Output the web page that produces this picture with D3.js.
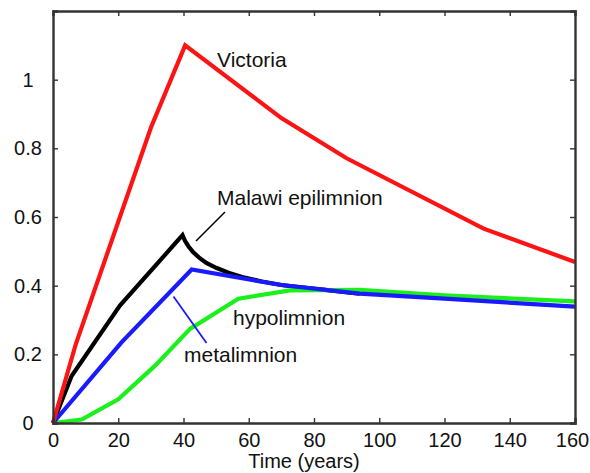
<!DOCTYPE html>
<html><head><meta charset="utf-8">
<script src="https://cdn.jsdelivr.net/npm/d3@7"></script>
<style>body{margin:0;background:#fff}svg{display:block}text{font-family:"Liberation Sans",Arial,Helvetica,sans-serif;fill:#111}</style>
</head><body>
<script>
// ---- data ----
const xTicks = [0, 20, 40, 60, 80, 100, 120, 140, 160];
const yTicks = [0, 0.2, 0.4, 0.6, 0.8, 1];
const yTickLabels = ["0", "0.2", "0.4", "0.6", "0.8", "1"];

const victoriaX = [0, 7, 30, 40.5, 70, 90, 132, 160];
const victoriaY = [0, 0.23, 0.86, 1.10, 0.888, 0.771, 0.566, 0.469];

const epiX = [0, 5.7, 20.5, 39.7, 40.5, 41.5, 43, 45, 47, 50, 54, 58, 64, 70, 76, 82, 94];
const epiY = [0, 0.137, 0.342, 0.547, 0.530, 0.515, 0.497, 0.480, 0.466, 0.452, 0.437, 0.425, 0.412, 0.402, 0.395, 0.389, 0.377];

const metaX = [0, 21, 42.5, 70, 94, 120, 160];
const metaY = [0, 0.235, 0.447, 0.402, 0.377, 0.362, 0.339];

const hypoX = [0, 8.8, 20, 31.3, 42, 56.8, 72.6, 94, 120, 160];
const hypoY = [0, 0.01, 0.069, 0.167, 0.274, 0.362, 0.386, 0.388, 0.372, 0.354];

const seriesNames = ["Malawi epilimnion", "hypolimnion", "metalimnion", "Victoria"];

// ---- layout ----
const W = 590, H = 473;
const L = 53, R = 575, T = 11, B = 423;
const svg = d3.select("body").append("svg").attr("width", W).attr("height", H);
const x = d3.scaleLinear().domain([0, 160]).range([L, R]);
const y = d3.scaleLinear().domain([0, 1.2]).range([B, T]);

const line = d3.line().x(d => x(d[0])).y(d => y(d[1]));
const zip = (a, b) => a.map((v, i) => [v, b[i]]);

const series = [
  {name: seriesNames[0], pts: zip(epiX, epiY), color: "#000000"},
  {name: seriesNames[1], pts: zip(hypoX, hypoY), color: "#1cf01c"},
  {name: seriesNames[2], pts: zip(metaX, metaY), color: "#1a1aff"},
  {name: seriesNames[3], pts: zip(victoriaX, victoriaY), color: "#fc1414"}
];

svg.append("g").selectAll("path").data(series).join("path")
  .attr("d", d => line(d.pts)).attr("fill", "none")
  .attr("stroke", d => d.color).attr("stroke-width", 4.2)
  .attr("stroke-linejoin", "miter").attr("stroke-miterlimit", 4);

// axes (ticks inward, mirrored)
const axStroke = "#333";
const gB = svg.append("g").attr("transform", `translate(0,${B})`)
  .call(d3.axisBottom(x).tickValues(xTicks).tickSize(-5).tickPadding(10).tickFormat(d3.format("d")));
const gT = svg.append("g").attr("transform", `translate(0,${T})`)
  .call(d3.axisTop(x).tickValues(xTicks).tickSize(-5).tickFormat(""));
const gL = svg.append("g").attr("transform", `translate(${L},0)`)
  .call(d3.axisLeft(y).tickValues(yTicks).tickSize(-5).tickPadding(12).tickFormat((d, i) => yTickLabels[i]));
const gR = svg.append("g").attr("transform", `translate(${R},0)`)
  .call(d3.axisRight(y).tickValues(yTicks).tickSize(-5).tickFormat(""));
[gB, gT, gL, gR].forEach(g => {
  g.select(".domain").attr("stroke", axStroke).attr("stroke-width", 2.4);
  g.selectAll(".tick line").attr("stroke", axStroke).attr("stroke-width", 1.4);
  g.selectAll("text").attr("font-size", 20).attr("fill", "#111")
    .attr("font-family", "Liberation Sans, Arial, sans-serif");
});
gL.selectAll(".tick text").attr("text-anchor", "middle").attr("x", 28 - L);
gB.selectAll(".tick text").attr("dy", "0.72em");
gB.selectAll(".tick text").filter(d => d === 160).attr("x", -3);

// annotations
const ann = svg.append("g").attr("font-size", 21);
ann.append("text").attr("x", 217).attr("y", 67).text("Victoria");
ann.append("text").attr("x", 217).attr("y", 205).text("Malawi epilimnion");
ann.append("text").attr("x", 233).attr("y", 325).text("hypolimnion");
ann.append("text").attr("x", 184).attr("y", 362).text("metalimnion");
svg.append("line").attr("x1", 196).attr("y1", 241).attr("x2", 225).attr("y2", 212)
  .attr("stroke", "#000").attr("stroke-width", 1.6);
svg.append("line").attr("x1", 173.5).attr("y1", 296.5).attr("x2", 206.5).attr("y2", 343)
  .attr("stroke", "#1a1aff").attr("stroke-width", 1.8);

svg.append("text").attr("x", 304).attr("y", 468).attr("text-anchor", "middle")
  .attr("font-size", 20).text("Time (years)");
</script>
</body></html>
